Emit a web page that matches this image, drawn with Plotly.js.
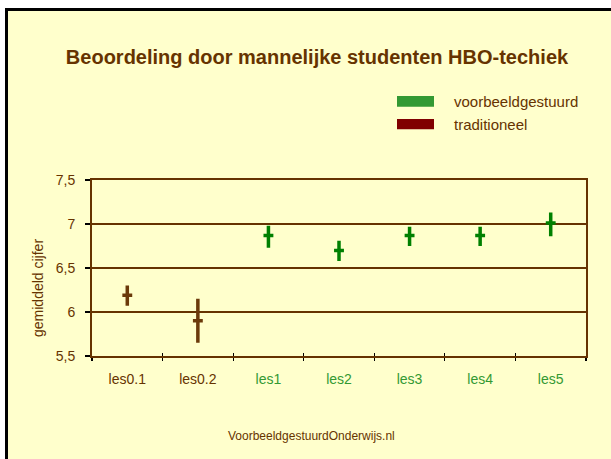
<!DOCTYPE html>
<html>
<head>
<meta charset="utf-8">
<script src="https://cdn.plot.ly/plotly-3.0.1.min.js"></script>
<style>
html,body{margin:0;padding:0;background:#ffffff;width:611px;height:459px;overflow:hidden;}
#frame{position:absolute;left:5px;top:8px;width:606px;height:451px;border-left:3px solid #000;border-top:3px solid #000;box-sizing:border-box;background:#FFFFCC;}
#chart{position:absolute;left:0;top:0;width:603px;height:448px;}
</style>
</head>
<body>
<div id="frame"><div id="chart"></div></div>
<script>
// ---- data ----
const categories = ['les0.1','les0.2','les1','les2','les3','les4','les5'];
const tradCats = ['les0.1','les0.2'];
const tradHigh = [6.30, 6.15];
const tradLow  = [6.07, 5.65];
const tradMean = [6.19, 5.90];
const voorCats = ['les1','les2','les3','les4','les5'];
const voorHigh = [6.98, 6.81, 6.97, 6.97, 7.13];
const voorLow  = [6.73, 6.58, 6.75, 6.75, 6.86];
const voorMean = [6.87, 6.70, 6.87, 6.87, 7.01];
const yTickVals = [5.5, 6, 6.5, 7, 7.5];
const yTickText = ['5,5', '6', '6,5', '7', '7,5'];
const seriesNames = ['voorbeeldgestuurd', 'traditioneel'];

const brown = '#663300';
const markBrown = '#6B3A0A';
const markGreen = '#008000';
const labelGreen = '#339933';
const font = 'Arial, "Liberation Sans", sans-serif';

function ohlc(x, h, l, m, color, name) {
  return {
    type: 'ohlc', x: x, open: m, high: h, low: l, close: m, name: name,
    xaxis: 'x', yaxis: 'y',
    tickwidth: 0.07,
    increasing: {line: {color: color, width: 3.5}},
    decreasing: {line: {color: color, width: 3.5}},
    showlegend: false, hoverinfo: 'skip'
  };
}

const traces = [
  ohlc(tradCats, tradHigh, tradLow, tradMean, markBrown, seriesNames[1]),
  ohlc(voorCats, voorHigh, voorLow, voorMean, markGreen, seriesNames[0]),
  {type:'scatter', x:[categories[0]], y:[null], xaxis:'x2', yaxis:'y', showlegend:false, hoverinfo:'skip'}
];

const tickText = categories.map(c => {
  const col = tradCats.includes(c) ? brown : labelGreen;
  return '<span style="color:' + col + '">' + c + '</span>';
});

const PL = 84, PW = 494, PT = 169, PH = 176;
const px = v => (v - PL) / PW;          // div x -> paper x
const py = v => 1 - (v - PT) / PH;      // div y -> paper y

const layout = {
  width: 603, height: 448,
  margin: {l: PL, r: 603 - PL - PW, t: PT, b: 448 - PT - PH, pad: 0},
  paper_bgcolor: 'rgba(0,0,0,0)',
  plot_bgcolor: 'rgba(0,0,0,0)',
  font: {family: font, color: brown, size: 14},
  showlegend: false,
  hovermode: false,
  title: {text: 'Beoordeling door mannelijke studenten HBO-techiek',
          font: {family: font, size: 20, color: brown, weight: 'bold'},
          x: 309 / 603, xanchor: 'center', xref: 'container', y: 1 - 46/448, yanchor: 'middle', yref: 'container'},
  xaxis: {
    type: 'category', categoryorder: 'array', categoryarray: categories,
    range: [-0.5, 6.5], fixedrange: true,
    tickvals: categories, ticktext: tickText, tickson: 'boundaries',
    ticks: 'outside', ticklen: 3, tickwidth: 1.2, tickcolor: '#000',
    ticklabelstandoff: 9,
    tickfont: {size: 14, family: font},
    showline: true, linecolor: brown, linewidth: 2, mirror: true,
    showgrid: false, zeroline: false,
    rangeslider: {visible: false}
  },
  xaxis2: {
    type: 'category', overlaying: 'x', matches: 'x', side: 'bottom', anchor: 'y',
    categoryorder: 'array', categoryarray: categories,
    tickvals: categories, tickson: 'boundaries',
    ticks: 'inside', ticklen: 3, tickwidth: 1.2, tickcolor: '#000',
    showticklabels: false, showline: false, showgrid: false, zeroline: false
  },
  yaxis: {
    range: [5.5, 7.5], fixedrange: true,
    tickvals: yTickVals, ticktext: yTickText,
    ticks: 'outside', ticklen: 5, tickwidth: 1.2, tickcolor: '#000',
    ticklabelstandoff: 7,
    tickfont: {size: 14, family: font, color: brown},
    showline: true, linecolor: brown, linewidth: 2, mirror: true,
    showgrid: true, gridcolor: brown, gridwidth: 1.5, zeroline: false
  },
  annotations: [
    {text: 'gemiddeld cijfer', textangle: -90, xref: 'paper', yref: 'paper',
     x: px(30), y: py(277), xanchor: 'center', yanchor: 'middle',
     showarrow: false, font: {size: 14, family: font, color: brown}},
    {text: seriesNames[0], xref: 'paper', yref: 'paper',
     x: px(444), y: py(90.7), xanchor: 'left', yanchor: 'middle',
     showarrow: false, font: {size: 15, family: font, color: brown}},
    {text: seriesNames[1], xref: 'paper', yref: 'paper',
     x: px(444), y: py(113), xanchor: 'left', yanchor: 'middle',
     showarrow: false, font: {size: 15, family: font, color: brown}},
    {text: 'VoorbeeldgestuurdOnderwijs.nl', xref: 'paper', yref: 'paper',
     x: px(303), y: py(425), xanchor: 'center', yanchor: 'middle',
     showarrow: false, font: {size: 12, family: font, color: brown}}
  ],
  shapes: [
    {type: 'rect', xref: 'paper', yref: 'paper', layer: 'above',
     x0: px(389), x1: px(426), y0: py(85), y1: py(95.7),
     fillcolor: labelGreen, line: {width: 0}},
    {type: 'rect', xref: 'paper', yref: 'paper', layer: 'above',
     x0: px(389), x1: px(426), y0: py(108), y1: py(118.3),
     fillcolor: '#800000', line: {width: 0}}
  ]
};

Plotly.newPlot('chart', traces, layout, {displayModeBar: false, staticPlot: true});
</script>
</body>
</html>
